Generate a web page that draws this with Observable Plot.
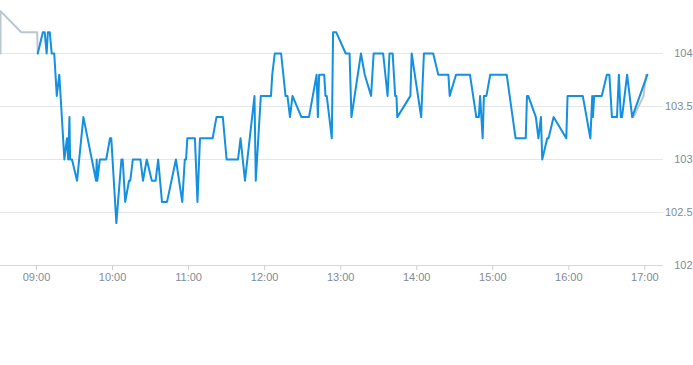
<!DOCTYPE html>
<html>
<head>
<meta charset="utf-8">
<script src="https://cdn.jsdelivr.net/npm/d3@7"></script>
<script src="https://cdn.jsdelivr.net/npm/@observablehq/plot@0.6"></script>
<style>
  html, body { margin: 0; padding: 0; background: #fff; }
</style>
</head>
<body>
<div id="chart"></div>
<script>
const blueTimes = [
  "09:01","09:05","09:06:30","09:08","09:09","09:10:30","09:12","09:14","09:16","09:18",
  "09:22","09:24","09:25","09:26","09:26:30","09:28","09:32","09:37","09:47","09:47:30",
  "09:48","09:50","09:55","09:58","09:59","10:03","10:07","10:08","10:10","10:13",
  "10:14","10:16","10:22","10:24","10:27","10:31","10:34","10:36","10:39","10:43",
  "10:50","10:55","10:57","10:58","10:59","11:05","11:07","11:09","11:19","11:22",
  "11:27","11:30","11:39","11:41","11:44:30","11:52","11:53","11:57","12:05","12:06",
  "12:08","12:13","12:16:30","12:18","12:20","12:22","12:29","12:35","12:41","12:42",
  "12:43","12:47","12:48","12:49","12:53","12:54","12:56:30","13:04","13:07","13:08:30",
  "13:16","13:19","13:24","13:26","13:33:30","13:37","13:38:30","13:41","13:43","13:44",
  "13:44:40","13:55","13:56","14:03:30","14:05:40","14:13","14:17","14:25","14:26","14:31",
  "14:42","14:47","14:49","14:50","14:52","14:53","14:55","14:58","15:11","15:18",
  "15:26","15:27","15:28","15:34","15:36","15:38","15:39","15:43","15:44","15:48",
  "15:58","15:59","16:11","16:17","16:18:30","16:19","16:20","16:26","16:30","16:32",
  "16:34","16:38","16:39:30","16:41","16:42","16:46","16:50","17:02"
];
const blueValues = [
  104.0,104.2,104.2,104.0,104.2,104.2,104.0,104.0,103.6,103.8,
  103.0,103.2,103.0,103.4,103.0,103.0,102.8,103.4,102.8,103.0,
  102.8,103.0,103.0,103.2,103.2,102.4,103.0,103.0,102.6,102.8,
  102.8,103.0,103.0,102.8,103.0,102.8,102.8,103.0,102.6,102.6,
  103.0,102.6,103.0,103.0,103.2,103.2,102.6,103.2,103.2,103.4,
  103.4,103.0,103.0,103.2,102.8,103.6,102.8,103.6,103.6,103.8,
  104.0,104.0,103.6,103.6,103.4,103.6,103.4,103.4,103.8,103.4,
  103.8,103.8,103.6,103.6,103.2,104.2,104.2,104.0,104.0,103.4,
  104.0,103.8,103.6,104.0,104.0,103.6,104.0,104.0,103.6,103.6,
  103.4,103.6,104.0,103.4,104.0,104.0,103.8,103.8,103.6,103.8,
  103.8,103.4,103.4,103.6,103.2,103.6,103.6,103.8,103.8,103.2,
  103.2,103.6,103.6,103.4,103.2,103.4,103.0,103.2,103.2,103.4,
  103.2,103.6,103.6,103.2,103.6,103.4,103.6,103.6,103.8,103.8,
  103.4,103.4,103.8,103.4,103.4,103.8,103.4,103.8
];
const grayTimes  = ["08:31:36","08:31:36","08:48","09:00:30","09:01", "16:51","16:59","17:01"];
const grayValues = [104.0, 104.4, 104.2, 104.2, 104.0, 103.4, 103.6, 103.8];
const graySegment = [0, 0, 0, 0, 0, 1, 1, 1];
const xTickLabels = ["09:00","10:00","11:00","12:00","13:00","14:00","15:00","16:00","17:00"];
const yTicks = [102, 102.5, 103, 103.5, 104];

function t(s) {
  const [h, m, sec = 0] = s.split(":").map(Number);
  return new Date(Date.UTC(2024, 0, 2, h, m, sec));
}

const blue = blueTimes.map((s, i) => ({time: t(s), value: blueValues[i]}));
const gray = grayTimes.map((s, i) => ({time: t(s), value: grayValues[i], seg: graySegment[i]}));
const xTicks = xTickLabels.map(t);

const chart = Plot.plot({
  width: 693,
  height: 365,
  marginTop: 0,
  marginLeft: 0,
  marginRight: 30,
  marginBottom: 100,
  style: {fontFamily: "'Liberation Sans', Arial, sans-serif", fontSize: "11px", color: "#8a94a0", background: "#fff"},
  x: {type: "utc", domain: [t("08:31:36"), t("17:14:42")], label: null},
  y: {domain: [102, 104.5], label: null},
  marks: [
    Plot.gridY(yTicks.slice(1), {stroke: "#e3e6ea", strokeOpacity: 1}),
    Plot.ruleY([102], {stroke: "#d3d9df"}),
    Plot.axisX(xTicks, {tickSize: 5, tickPadding: 3, tickFormat: d3.utcFormat("%H:%M"), stroke: "#c9d0d6", fill: "#808b97", label: null}),
    Plot.axisY(yTicks, {anchor: "right", tickSize: 0, tickPadding: 0, textAnchor: "end", dx: 29, tickFormat: d => String(d), fill: "#808b97", label: null}),
    Plot.line(gray, {x: "time", y: "value", z: "seg", stroke: "#bcc6cd", strokeWidth: 2, clip: true}),
    Plot.line(blue, {x: "time", y: "value", stroke: "#1490e0", strokeWidth: 2, clip: true})
  ]
});
document.getElementById("chart").appendChild(chart);
</script>
</body>
</html>
